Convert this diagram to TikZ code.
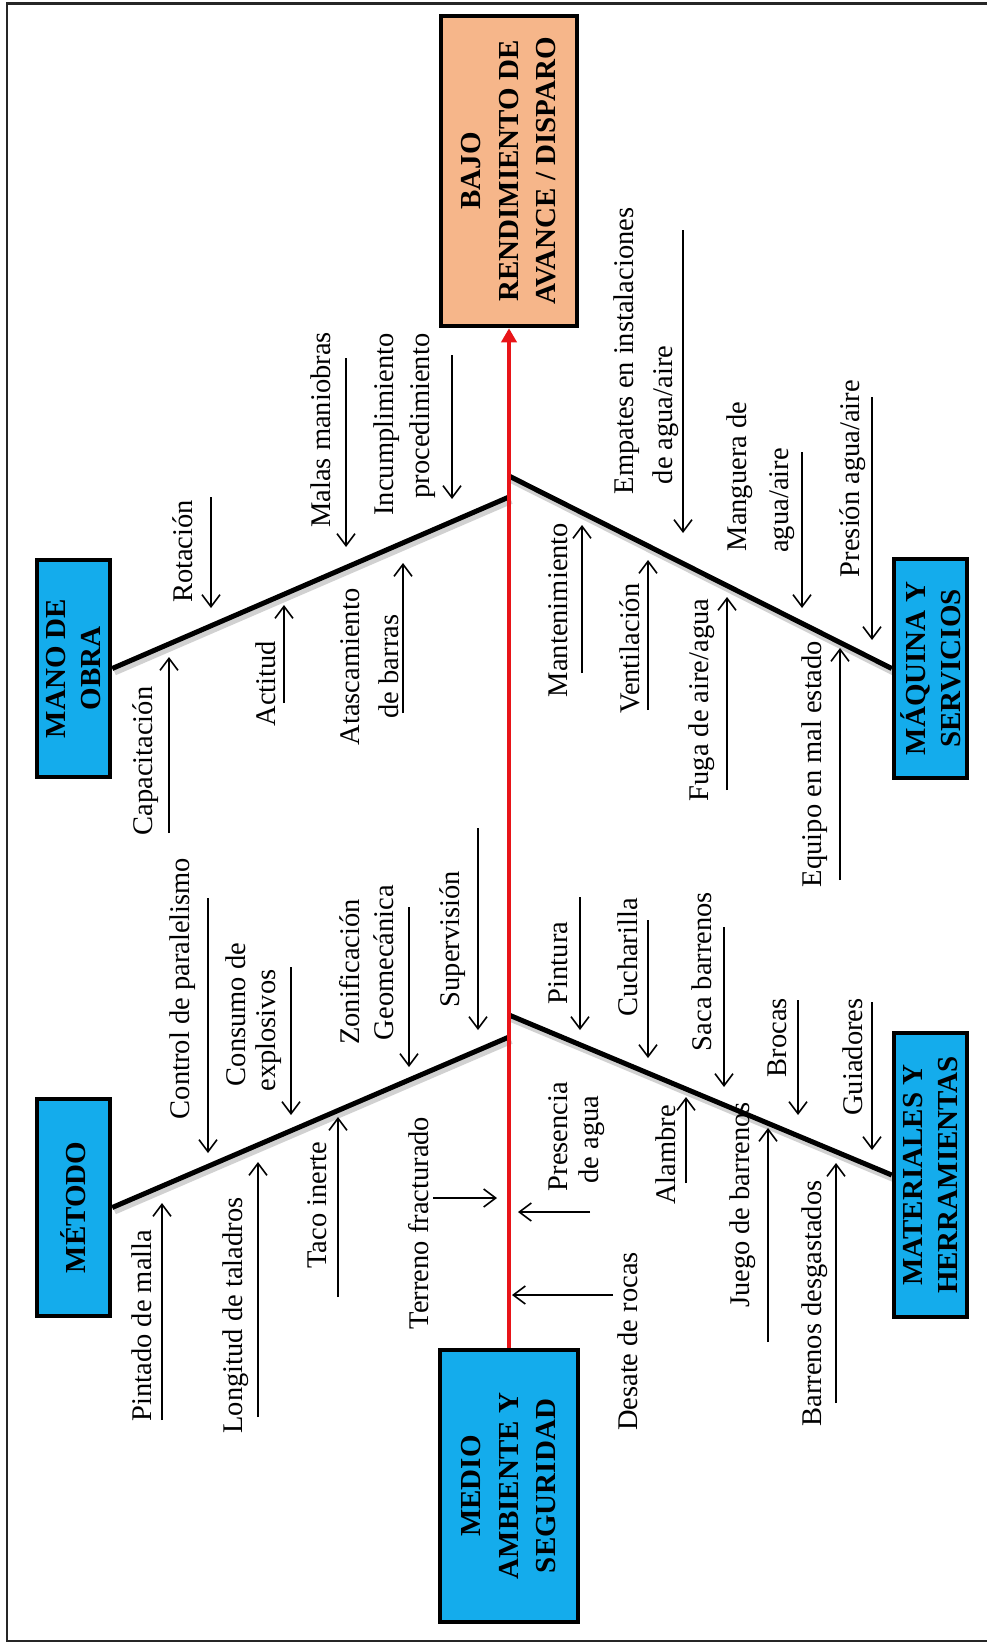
\documentclass[tikz,border=0pt]{standalone}
\usepackage{fontspec}
\setmainfont{Liberation Serif}
\usetikzlibrary{arrows.meta}
\definecolor{boxblue}{RGB}{20,172,236}
\definecolor{boxorange}{RGB}{246,182,138}
\definecolor{spinered}{RGB}{232,20,24}
\tikzset{
  lab/.style={rotate=90, inner sep=0pt, font=\fontsize{28.5}{34}\selectfont},
  catbox/.style={rotate=90, draw=black, line width=4.5pt, fill=boxblue, inner sep=0pt, align=center,
     font=\bfseries\fontsize{29}{35}\selectfont},
  bigbox/.style={rotate=90, draw=black, line width=4.5pt, inner sep=0pt, align=center,
     font=\bfseries\fontsize{29}{37.5}\selectfont},
  cause/.style={line width=1.6pt, -{Straight Barb[length=12pt,width=18pt]}},
  bone/.style={line width=5pt, black},
  boneshadow/.style={line width=8pt, black, opacity=0.18},
  spine/.style={line width=4pt, spinered, -{Triangle[length=14pt,width=15pt]}},
  frameline/.style={line width=2.5pt, black!85}
}
\begin{document}
\begin{tikzpicture}[x=1pt,y=-1pt]
\useasboundingbox (0,0) rectangle (987,1643);
% frame
\draw[frameline] (987,3.5) -- (7,3.5) -- (7,1641) -- (987,1641);

% boxes
\node[bigbox, fill=boxorange, minimum width=310pt, minimum height=136pt] (head) at (509,171)
  {BAJO\\RENDIMIENTO DE\\AVANCE / DISPARO};
\node[bigbox, fill=boxblue, minimum width=272pt, minimum height=138pt] (medio) at (509,1486)
  {MEDIO\\AMBIENTE Y\\SEGURIDAD};
\node[catbox, minimum width=217pt, minimum height=73pt] (mano) at (73.5,668.5) {MANO DE\\OBRA};
\node[catbox, minimum width=219pt, minimum height=73pt] (maq) at (930.5,668.5) {MÁQUINA Y\\SERVICIOS};
\node[catbox, minimum width=217pt, minimum height=73pt] (metodo) at (73.5,1207.5) {MÉTODO};
\node[catbox, minimum width=284pt, minimum height=73pt] (mat) at (930.5,1175) {MATERIALES Y\\HERRAMIENTAS};

% junctions on spine
\coordinate (jmano) at (509,497);
\coordinate (jmaq) at (509,476);
\coordinate (jmet) at (509,1037);
\coordinate (jmat) at (509,1015);

% bones
\draw[boneshadow] ([shift={(2,3)}]mano.south) -- ([shift={(2,3)}]jmano);
\draw[boneshadow] ([shift={(2,3)}]jmaq) -- ([shift={(2,3)}]maq.north);
\draw[boneshadow] ([shift={(2,3)}]metodo.south) -- ([shift={(2,3)}]jmet);
\draw[boneshadow] ([shift={(2,3)}]jmat) -- ([shift={(2,3)}]mat.north);
\draw[bone] (mano.south) -- (jmano);
\draw[bone] (jmaq) -- (maq.north);
\draw[bone] (metodo.south) -- (jmet);
\draw[bone] (jmat) -- (mat.north);

% spine
\draw[spine] (medio.east) -- (head.west);

% ---- MANO DE OBRA causes
\node[lab] (capac) at (146,761) {Capacitación};
\draw[cause] (169,833) -- (169,657);
\node[lab] (rota) at (182.5,551.5) {Rotación};
\draw[cause] (211,497) -- (211,608);
\node[lab] (acti) at (266,683.5) {Actitud};
\draw[cause] (284,703) -- (284,605);
\node[lab] (malas) at (321,430) {Malas maniobras};
\draw[cause] (346,358) -- (346,547);
\node[lab] (incu1) at (387,424.5) {Incumplimiento};
\node[lab] (incu2) at (423,416) {procedimiento};
\draw[cause] (452,355) -- (452,499);
\node[lab] (atas1) at (350,667) {Atascamiento};
\node[lab] (atas2) at (389,666.5) {de barras};
\draw[cause] (403,713) -- (403,563);

% ---- MAQUINA Y SERVICIOS causes
\node[lab] (mant) at (558.5,610) {Mantenimiento};
\draw[cause] (582,673) -- (582,525);
\node[lab] (vent) at (629.5,648.5) {Ventilación};
\draw[cause] (648,710) -- (648,560);
\node[lab] (empa1) at (626.5,351) {Empates en instalaciones};
\node[lab] (empa2) at (665.5,415) {de agua/aire};
\draw[cause] (683,230) -- (683,533);
\node[lab] (fuga) at (701.5,700) {Fuga de aire/agua};
\draw[cause] (727,790) -- (727,597);
\node[lab] (mang1) at (739.5,476.5) {Manguera de};
\node[lab] (mang2) at (782,500.5) {agua/aire};
\draw[cause] (802,452) -- (802,608);
\node[lab] (equi) at (815,764) {Equipo en mal estado};
\draw[cause] (840,880) -- (840,648);
\node[lab] (pres) at (852.5,478.5) {Presión agua/aire};
\draw[cause] (872,397) -- (872,640);

% ---- METODO causes
\node[lab] (ctrl) at (182.5,988.5) {Control de paralelismo};
\draw[cause] (208,898) -- (208,1153);
\node[lab] (cons1) at (236,1014.5) {Consumo de};
\node[lab] (cons2) at (269,1030.5) {explosivos};
\draw[cause] (291,967) -- (291,1115);
\node[lab] (zoni1) at (349.5,972) {Zonificación};
\node[lab] (zoni2) at (383.5,962.5) {Geomecánica};
\draw[cause] (409,907) -- (409,1067);
\node[lab] (supe) at (453,939) {Supervisión};
\draw[cause] (478,828) -- (478,1030);
\node[lab] (pint) at (141.5,1325.5) {Pintado de malla};
\draw[cause] (162,1420) -- (162,1203);
\node[lab] (long) at (236,1315.5) {Longitud de taladros};
\draw[cause] (258,1417) -- (258,1162);
\node[lab] (taco) at (317.5,1205) {Taco inerte};
\draw[cause] (338,1297) -- (338,1117);

% ---- MEDIO AMBIENTE causes
\node[lab] (terr) at (418.5,1223) {Terreno fracturado};
\draw[cause] (433,1198) -- (497,1198);
\node[lab] (prese1) at (558.5,1136.5) {Presencia};
\node[lab] (prese2) at (591.5,1139.5) {de agua};
\draw[cause] (590,1212) -- (518,1212);
\node[lab] (desa) at (628,1341.5) {Desate de rocas};
\draw[cause] (613,1295) -- (512,1295);

% ---- MATERIALES causes
\node[lab] (pintu) at (558.5,963) {Pintura};
\draw[cause] (580,897) -- (580,1030);
\node[lab] (cuch) at (628,957.5) {Cucharilla};
\draw[cause] (648,920) -- (648,1058);
\node[lab] (saca) at (701.5,971.5) {Saca barrenos};
\draw[cause] (724,927) -- (724,1087);
\node[lab] (alam) at (665.5,1155) {Alambre};
\draw[cause] (686,1183) -- (686,1097);
\node[lab] (broc) at (777.5,1037.5) {Brocas};
\draw[cause] (798,1000) -- (798,1115);
\node[lab] (jueg) at (743,1205) {Juego de barrenos};
\draw[cause] (768,1342) -- (768,1128);
\node[lab] (guia) at (852.5,1057) {Guiadores};
\draw[cause] (872,1002) -- (872,1150);
\node[lab] (barr) at (815,1303.5) {Barrenos desgastados};
\draw[cause] (836,1403) -- (836,1163);
\end{tikzpicture}
\end{document}
